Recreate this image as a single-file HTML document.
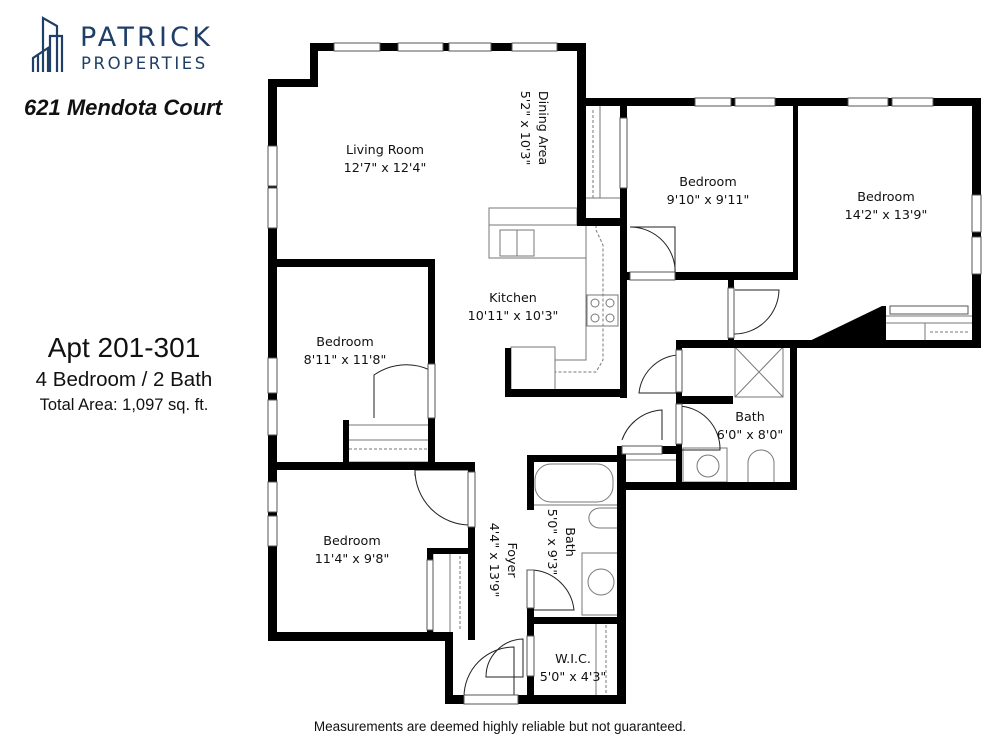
<!DOCTYPE html>
<html><head><meta charset="utf-8"><style>
html,body{margin:0;padding:0;background:#fff}
svg{display:block}
text{font-family:"DejaVu Sans","Liberation Sans",sans-serif}
.r{font-size:12.7px;fill:#111}
</style></head><body>
<svg width="1000" height="750" viewBox="0 0 1000 750" xmlns="http://www.w3.org/2000/svg">
<!-- logo -->
<g fill="none" stroke="#1f3f68" stroke-width="2.2">
<path d="M43 72V18l14 8v46M50 72V36h12v36M33 72V58l15-10v24M38 72V55"/>
</g>
<text x="80" y="46" font-family="Liberation Sans" font-size="27" fill="#1f3f68" letter-spacing="3.2">PATRICK</text>
<text x="81" y="69" font-family="Liberation Sans" font-size="16.5" fill="#1f3f68" letter-spacing="2.6">PROPERTIES</text>
<text x="24" y="115" style="font-family:'Liberation Sans',sans-serif" font-size="22" font-weight="bold" font-style="italic" fill="#111">621 Mendota Court</text>
<text x="124" y="357" text-anchor="middle" style="font-family:'Liberation Sans',sans-serif" font-size="28" fill="#111">Apt 201-301</text>
<text x="124" y="386" text-anchor="middle" style="font-family:'Liberation Sans',sans-serif" font-size="20.5" fill="#111">4 Bedroom / 2 Bath</text>
<text x="124" y="410" text-anchor="middle" style="font-family:'Liberation Sans',sans-serif" font-size="16.5" fill="#111">Total Area: 1,097 sq. ft.</text>
<text x="500" y="731" text-anchor="middle" style="font-family:'Liberation Sans',sans-serif" font-size="13.5" fill="#111">Measurements are deemed highly reliable but not guaranteed.</text>

<!-- fixtures thin lines -->
<g fill="none" stroke="#777" stroke-width="1">
<rect x="489" y="208" width="88" height="17"/>
<path d="M489 225H585M489 225V258H586V360H555M586 258V225"/>
<rect x="500" y="230" width="34" height="26"/><path d="M517 230V256"/>
<rect x="587" y="295" width="31" height="31"/>
<circle cx="595" cy="303" r="4"/><circle cx="610" cy="303" r="4"/><circle cx="595" cy="318" r="4"/><circle cx="610" cy="318" r="4"/>
<rect x="511" y="347" width="44" height="46"/>
<path d="M596 225V230L603 245V360L596 372H555" stroke-dasharray="3,2"/>
<path d="M585 106V198M600 106V198" /><path d="M593 110V198" stroke-dasharray="3,2"/><path d="M585 198H622"/>
<path d="M349 425H428M349 440H428M349 462H428"/><path d="M349 449H428" stroke-dasharray="3,2"/>
<path d="M433 554V632M450 554V632"/><path d="M460 556V630" stroke-dasharray="3,2"/>
<rect x="535" y="464" width="78" height="38" rx="16"/><path d="M533 505H618M533 505V455"/>
<path d="M618 508H600a10 9 0 0 0 0 20h18z"/>
<rect x="582" y="553" width="36" height="62"/><circle cx="601" cy="582" r="13"/>
<path d="M596 623V695M596 623"/><path d="M606 625V693" stroke-dasharray="3,2"/>
<rect x="735" y="347" width="48" height="50"/><path d="M735 347L783 397M783 347L735 397"/>
<path d="M626 452H676M626 460H676"/>
<rect x="683" y="448" width="44" height="34"/><circle cx="708" cy="466" r="11"/>
<path d="M748 482V463a13 13 0 0 1 26 0V482"/>
<path d="M885 316H972M885 323H972M885 340V323M925 323V340"/><path d="M930 332H970" stroke-dasharray="3,2"/>
</g>
<!-- doors arcs -->
<g fill="none" stroke="#222" stroke-width="1">
<path d="M374 418V375a56 56 0 0 1 56 -5"/>
<path d="M415 476V470h55v55a55 55 0 0 1 -55 -55"/>
<path d="M630 227H675V276a45 45 0 0 0 -45 -49"/>
<path d="M735 290H779a45 45 0 0 1 -45 44"/>
<path d="M677 355a43 43 0 0 0 -38 38H677"/>
<path d="M677 406a43 43 0 0 1 43 44H677"/>
<path d="M622 440a45 45 0 0 1 40 -30V440"/>
<path d="M533 570a45 45 0 0 1 41 40H533"/>
<path d="M464 697a50 50 0 0 1 50 -50V697"/>
<path d="M486 677a38 38 0 0 1 37 -38V677z"/>
</g>

<!-- walls -->
<g fill="#000">
<rect x="310" y="43" width="276" height="8"/>
<rect x="310" y="43" width="8" height="44"/>
<rect x="268" y="79" width="50" height="8"/>
<rect x="268" y="79" width="9" height="561"/>
<rect x="577" y="43" width="9" height="183"/>
<rect x="577" y="98" width="404" height="8"/>
<rect x="972" y="98" width="9" height="250"/>
<rect x="793" y="98" width="5" height="182"/>
<rect x="620" y="98" width="7" height="300"/>
<rect x="577" y="218" width="50" height="8"/>
<rect x="622" y="272" width="176" height="8"/>
<rect x="505" y="389" width="122" height="8"/>
<rect x="505" y="348" width="6" height="49"/>
<rect x="728" y="280" width="6" height="68"/>
<rect x="676" y="340" width="122" height="8"/>
<polygon points="795,348 882,306 886,306 886,348"/>
<rect x="795" y="340" width="186" height="8"/>
<rect x="790" y="340" width="7" height="150"/>
<rect x="617" y="482" width="180" height="8"/>
<rect x="676" y="340" width="6" height="146"/>
<rect x="676" y="396" width="57" height="8"/>
<rect x="617" y="446" width="64" height="8"/>
<rect x="617" y="446" width="9" height="258"/>
<rect x="527" y="455" width="95" height="7"/>
<rect x="527" y="455" width="7" height="55"/>
<rect x="527" y="608" width="7" height="96"/>
<rect x="527" y="617" width="95" height="7"/>
<rect x="445" y="695" width="181" height="9"/>
<rect x="445" y="632" width="8" height="72"/>
<rect x="268" y="632" width="185" height="9"/>
<rect x="268" y="462" width="207" height="8"/>
<rect x="468" y="462" width="7" height="178"/>
<rect x="427" y="548" width="48" height="6"/>
<rect x="427" y="548" width="6" height="84"/>
<rect x="268" y="259" width="167" height="8"/>
<rect x="428" y="259" width="7" height="206"/>
<rect x="343" y="420" width="6" height="45"/>
</g>
<!-- windows / openings (white with lines) -->
<g fill="#fff" stroke="#555" stroke-width="1">
<rect x="334" y="43" width="46" height="8"/><rect x="398" y="43" width="45" height="8"/><rect x="449" y="43" width="42" height="8"/><rect x="512" y="43" width="45" height="8"/>
<rect x="695" y="98" width="36" height="8"/><rect x="735" y="98" width="40" height="8"/>
<rect x="848" y="98" width="40" height="8"/><rect x="892" y="98" width="41" height="8"/>
<rect x="268" y="146" width="9" height="40"/><rect x="268" y="188" width="9" height="40"/>
<rect x="268" y="358" width="9" height="35"/><rect x="268" y="400" width="9" height="35"/>
<rect x="268" y="482" width="9" height="30"/><rect x="268" y="516" width="9" height="30"/>
<rect x="972" y="195" width="9" height="37"/><rect x="972" y="237" width="9" height="37"/>
<rect x="428" y="364" width="7" height="54"/>
<rect x="468" y="472" width="7" height="55"/>
<rect x="427" y="560" width="6" height="70"/>
<rect x="620" y="118" width="7" height="70"/>
<rect x="630" y="272" width="45" height="8"/>
<rect x="728" y="288" width="6" height="50"/>
<rect x="676" y="350" width="6" height="42"/>
<rect x="676" y="404" width="6" height="40"/>
<rect x="622" y="446" width="40" height="8"/>
<rect x="527" y="570" width="7" height="38"/>
<rect x="527" y="636" width="7" height="40"/>
<rect x="464" y="695" width="54" height="9"/>
<rect x="890" y="306" width="78" height="8"/>
</g>

<!-- labels -->
<text class="r" x="385" y="154" text-anchor="middle">Living Room</text>
<text class="r" x="385" y="172" text-anchor="middle">12'7" x 12'4"</text>
<text class="r" transform="translate(539 128) rotate(90)" text-anchor="middle">Dining Area</text>
<text class="r" transform="translate(521 128) rotate(90)" text-anchor="middle">5'2" x 10'3"</text>
<text class="r" x="513" y="302" text-anchor="middle">Kitchen</text>
<text class="r" x="513" y="320" text-anchor="middle">10'11" x 10'3"</text>
<text class="r" x="345" y="346" text-anchor="middle">Bedroom</text>
<text class="r" x="345" y="364" text-anchor="middle">8'11" x 11'8"</text>
<text class="r" x="708" y="186" text-anchor="middle">Bedroom</text>
<text class="r" x="708" y="204" text-anchor="middle">9'10" x 9'11"</text>
<text class="r" x="886" y="201" text-anchor="middle">Bedroom</text>
<text class="r" x="886" y="219" text-anchor="middle">14'2" x 13'9"</text>
<text class="r" x="750" y="421" text-anchor="middle">Bath</text>
<text class="r" x="750" y="439" text-anchor="middle">6'0" x 8'0"</text>
<text class="r" x="352" y="545" text-anchor="middle">Bedroom</text>
<text class="r" x="352" y="563" text-anchor="middle">11'4" x 9'8"</text>
<text class="r" transform="translate(508 560) rotate(90)" text-anchor="middle">Foyer</text>
<text class="r" transform="translate(490 560) rotate(90)" text-anchor="middle">4'4" x 13'9"</text>
<text class="r" transform="translate(566 542) rotate(90)" text-anchor="middle">Bath</text>
<text class="r" transform="translate(548 542) rotate(90)" text-anchor="middle">5'0" x 9'3"</text>
<text class="r" x="573" y="663" text-anchor="middle">W.I.C.</text>
<text class="r" x="573" y="681" text-anchor="middle">5'0" x 4'3"</text>
</svg>
</body></html>
